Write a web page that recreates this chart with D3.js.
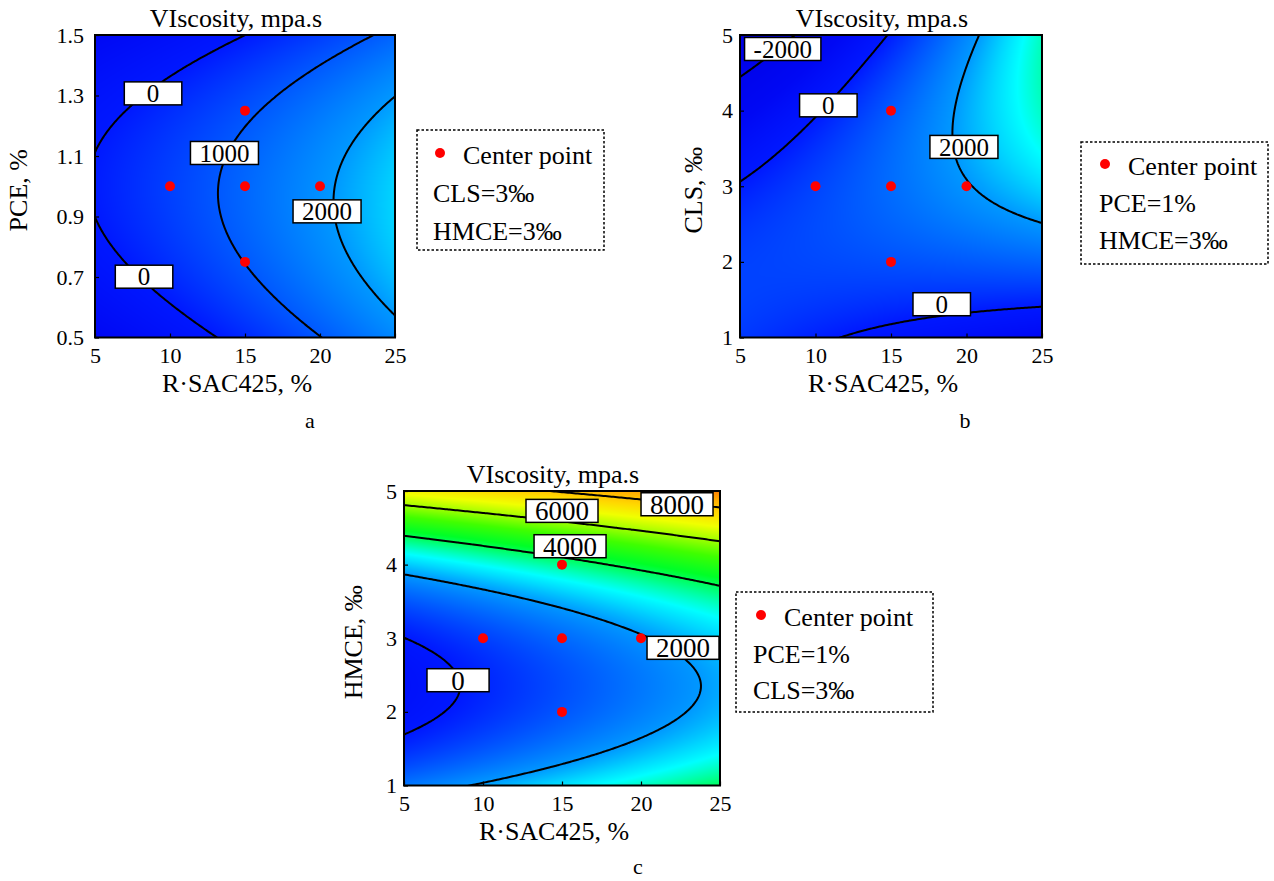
<!DOCTYPE html>
<html>
<head>
<meta charset="utf-8">
<script src="https://cdn.jsdelivr.net/npm/d3@7.9.0/dist/d3.min.js"></script>
<style>
  body { margin: 0; background: #fff; }
  svg text { font-family: "Liberation Serif", "Times New Roman", serif; fill: #000; }
</style>
</head>
<body>
<svg id="chart" width="1274" height="881"></svg>
<script>
// ---- data ----
// factor levels of the design (grid nodes)
const rsacLevels = [5, 10, 15, 20, 25];          // R·SAC425, %
const pceLevels = [0.5, 0.75, 1.0, 1.25, 1.5];   // PCE, %
const clsLevels = [1, 2, 3, 4, 5];               // CLS, ‰
const hmceLevels = [1, 2, 3, 4, 5];              // HMCE, ‰

// predicted viscosity (mpa.s) at the grid nodes; rows = y level (low -> high), cols = R·SAC425 level
const viscA = [
  [-1065, -423, 259, 983, 1747],
  [-234, 369, 1013, 1699, 2424],
  [50, 615, 1221, 1868, 2556],
  [-212, 315, 882, 1491, 2140],
  [-1021, -532, -3, 567, 1178]
];
const viscB = [
  [506, 122, -249, -606, -950],
  [629, 746, 876, 1020, 1178],
  [57, 674, 1306, 1950, 2609],
  [-1212, -93, 1039, 2184, 3344],
  [-3177, -1557, 76, 1723, 3383]
];
const viscC = [
  [1487, 2103, 2722, 3343, 3968],
  [-332, 317, 969, 1623, 2281],
  [-11, 632, 1278, 1927, 2578],
  [2450, 3049, 3650, 4254, 4861],
  [7051, 7566, 8084, 8605, 9129]
];

// contour levels
const levelsA = [0, 1000, 2000];
const levelsB = [-2000, 0, 2000];
const levelsC = [0, 2000, 4000, 6000, 8000];

// tick labels
const rsacTicks = [5, 10, 15, 20, 25];
const pceTicks = [0.5, 0.7, 0.9, 1.1, 1.3, 1.5];
const clsTicks = [1, 2, 3, 4, 5];
const hmceTicks = [1, 2, 3, 4, 5];

// design points (red dots)
const designA = [[10, 1], [15, 1.25], [15, 1], [15, 0.75], [20, 1]];
const designB = [[10, 3], [15, 4], [15, 3], [15, 2], [20, 3]];
const designC = [[10, 3], [15, 4], [15, 3], [15, 2], [20, 3]];

// contour label anchors: [level, x, y] in data units
const labelsA = [[0, 8.87, 1.307], [1000, 13.63, 1.11], [2000, 20.47, 0.917], [0, 8.27, 0.701]];
const labelsB = [[-2000, 7.83, 4.815], [0, 10.85, 4.07], [2000, 19.83, 3.52], [0, 18.36, 1.44]];
const labelsC = [[8000, 22.28, 4.82], [6000, 15.0, 4.73], [4000, 15.51, 4.25], [2000, 22.66, 2.87], [0, 8.42, 2.43]];

// fixed factors shown in the legends
const legendA = ['CLS=3‰', 'HMCE=3‰'];
const legendB = ['PCE=1%', 'HMCE=3‰'];
const legendC = ['PCE=1%', 'CLS=3‰'];

// ---- colour map (jet-like) ----
const colorStops = [-3000, -1000, 0, 1000, 2000, 2600, 3000, 3700, 4300, 5200, 6000, 6800, 7600, 8400, 9100];
const colorRange = ['#0000e4', '#0008f4', '#0018ff', '#0058ff', '#0098ff', '#00d8ff', '#00ffff',
  '#00ff88', '#00ff28', '#40ff00', '#a0ff00', '#f0ff00', '#ffd800', '#ffb000', '#ff8000'];
const color = d3.scaleLinear().domain(colorStops).range(colorRange).clamp(true);

const svg = d3.select('#chart');
const defs = svg.append('defs');

// smooth surface through the grid nodes (Catmull-Rom, exact for quadratic surfaces)
function cr(p0, p1, p2, p3, s) {
  return 0.5 * (2 * p1 + (-p0 + p2) * s + (2 * p0 - 5 * p1 + 4 * p2 - p3) * s * s +
    (-p0 + 3 * p1 - 3 * p2 + p3) * s * s * s);
}
function makeSampler(grid) {
  const ext = a => [3 * a[0] - 3 * a[1] + a[2], ...a,
    3 * a[a.length - 1] - 3 * a[a.length - 2] + a[a.length - 3]];
  const rows = grid.map(ext);
  const cols = d3.range(rows[0].length).map(j => ext(rows.map(r => r[j])));
  const n = grid.length, m = grid[0].length;
  return (tx, ty) => {
    const i = Math.max(0, Math.min(Math.floor(tx), m - 2)), s = tx - i;
    const k = Math.max(0, Math.min(Math.floor(ty), n - 2)), t = ty - k;
    const col = j => cr(cols[j][k], cols[j][k + 1], cols[j][k + 2], cols[j][k + 3], t);
    return cr(col(i), col(i + 1), col(i + 2), col(i + 3), s);
  };
}

function drawPanel(p) {
  const x = d3.scaleLinear().domain(d3.extent(p.xLevels)).range([p.left, p.right]);
  const y = d3.scaleLinear().domain(d3.extent(p.yLevels)).range([p.bottom, p.top]);
  const tX = d3.scaleLinear().domain(d3.extent(p.xLevels)).range([0, p.xLevels.length - 1]);
  const tY = d3.scaleLinear().domain(d3.extent(p.yLevels)).range([0, p.yLevels.length - 1]);
  const sample = makeSampler(p.values);
  const w = p.right - p.left, h = p.bottom - p.top;
  const g = svg.append('g');

  // heat map
  const cw = Math.round(w), ch = Math.round(h);
  const canvas = document.createElement('canvas');
  canvas.width = cw; canvas.height = ch;
  const ctx = canvas.getContext('2d');
  const img = ctx.createImageData(cw, ch);
  for (let py = 0; py < ch; py++) {
    const yv = y.invert(p.top + (py + 0.5) * h / ch);
    for (let px = 0; px < cw; px++) {
      const xv = x.invert(p.left + (px + 0.5) * w / cw);
      const c = d3.rgb(color(sample(tX(xv), tY(yv))));
      const o = (py * cw + px) * 4;
      img.data[o] = c.r; img.data[o + 1] = c.g; img.data[o + 2] = c.b; img.data[o + 3] = 255;
    }
  }
  ctx.putImageData(img, 0, 0);
  g.append('image')
    .attr('href', canvas.toDataURL())
    .attr('x', p.left).attr('y', p.top)
    .attr('width', w).attr('height', h)
    .attr('preserveAspectRatio', 'none');

  // contour lines
  defs.append('clipPath').attr('id', 'clip-' + p.id)
    .append('rect').attr('x', p.left).attr('y', p.top).attr('width', w).attr('height', h);
  const N = 161;
  const [x0, x1] = d3.extent(p.xLevels), [y0, y1] = d3.extent(p.yLevels);
  const vals = new Float64Array(N * N);
  for (let j = 0; j < N; j++) {
    const yv = y0 + j * (y1 - y0) / (N - 1);
    for (let i = 0; i < N; i++) {
      const xv = x0 + i * (x1 - x0) / (N - 1);
      vals[j * N + i] = sample(tX(xv), tY(yv));
    }
  }
  const contours = d3.contours().size([N, N]).thresholds(p.levels)(vals);
  const proj = d3.geoTransform({
    point(cx, cy) {
      this.stream.point(x(x0 + (cx - 0.5) * (x1 - x0) / (N - 1)), y(y0 + (cy - 0.5) * (y1 - y0) / (N - 1)));
    }
  });
  g.append('g').attr('clip-path', `url(#clip-${p.id})`)
    .selectAll('path').data(contours).join('path')
    .attr('d', d3.geoPath(proj))
    .attr('fill', 'none').attr('stroke', '#000').attr('stroke-width', 2);

  // contour labels
  p.labels.forEach(([lv, lx, ly]) => {
    const lg = g.append('g').attr('transform', `translate(${x(lx)},${y(ly)})`);
    const box = lg.append('rect');
    const txt = lg.append('text').attr('text-anchor', 'middle').attr('dy', '0.35em')
      .attr('font-size', p.labelSize).text(String(lv));
    const tw = txt.node().getComputedTextLength();
    const bw = Math.max(tw + 18, p.labelSize * 2.3);
    box.attr('x', -bw / 2).attr('y', -11.5).attr('width', bw).attr('height', 23)
      .attr('fill', '#fff').attr('stroke', '#000').attr('stroke-width', 1.5);
  });

  // design points
  g.selectAll('circle.pt').data(p.points).join('circle').attr('class', 'pt')
    .attr('cx', d => x(d[0])).attr('cy', d => y(d[1])).attr('r', 5).attr('fill', '#ff0000');

  // axes with inward ticks
  g.append('g').attr('transform', `translate(0,${p.bottom})`)
    .call(d3.axisBottom(x).tickValues(rsacTicks).tickSizeInner(-4).tickSizeOuter(0).tickPadding(10))
    .call(a => a.select('.domain').remove())
    .attr('font-size', 22).attr('font-family', null);
  g.append('g').attr('transform', `translate(${p.left},0)`)
    .call(d3.axisLeft(y).tickValues(p.yTicks).tickFormat(p.yFormat).tickSizeInner(-4).tickSizeOuter(0).tickPadding(p.yPad))
    .call(a => a.select('.domain').remove())
    .attr('font-size', 22).attr('font-family', null);
  g.selectAll('.tick line').attr('stroke', '#000').attr('stroke-width', 1.2);
  g.selectAll('.tick text').attr('fill', '#000');

  // frame
  g.append('rect').attr('x', p.left).attr('y', p.top).attr('width', w).attr('height', h)
    .attr('fill', 'none').attr('stroke', '#000').attr('stroke-width', 2);

  // titles
  const cx = (p.left + p.right) / 2;
  g.append('text').attr('x', cx - 9).attr('y', p.top - 8).attr('text-anchor', 'middle')
    .attr('font-size', 26).text('VIscosity, mpa.s');
  g.append('text').attr('x', cx - 8).attr('y', p.bottom + 54).attr('text-anchor', 'middle')
    .attr('font-size', 26).text('R·SAC425, %');
  g.append('text').attr('transform', `translate(${p.yTitleX},${(p.top + p.bottom) / 2 + 4}) rotate(-90)`)
    .attr('text-anchor', 'middle').attr('font-size', 26).text(p.yTitle);
  g.append('text').attr('x', p.tagX).attr('y', p.tagY).attr('text-anchor', 'middle')
    .attr('font-size', 22).text(p.id);

  // legend box
  const L = p.legend;
  g.append('rect').attr('x', L.x).attr('y', L.y).attr('width', L.w).attr('height', L.h)
    .attr('fill', 'none').attr('stroke', '#000').attr('stroke-width', 1.5).attr('stroke-dasharray', '2.5,2');
  g.append('circle').attr('cx', L.dotX).attr('cy', L.rowY[0] - 2).attr('r', 5).attr('fill', '#ff0000');
  g.append('text').attr('x', L.dotX + 23).attr('y', L.rowY[0]).attr('dy', '0.34em')
    .attr('font-size', 26).text('Center point');
  L.lines.forEach((t, i) => {
    g.append('text').attr('x', L.textX).attr('y', L.rowY[i + 1]).attr('dy', '0.34em')
      .attr('font-size', 26).text(t);
  });
}

drawPanel({
  id: 'a', left: 95, right: 395, top: 35, bottom: 337.5,
  xLevels: rsacLevels, yLevels: pceLevels, values: viscA, levels: levelsA,
  points: designA, labels: labelsA, labelSize: 25,
  yTicks: pceTicks, yFormat: d3.format('.1f'), yPad: 11, yTitle: 'PCE, %', yTitleX: 27,
  tagX: 310, tagY: 428,
  legend: { x: 417, y: 130, w: 187, h: 120, dotX: 440, textX: 433, rowY: [155, 193, 231], lines: legendA }
});
drawPanel({
  id: 'b', left: 740, right: 1042, top: 35, bottom: 337.5,
  xLevels: rsacLevels, yLevels: clsLevels, values: viscB, levels: levelsB,
  points: designB, labels: labelsB, labelSize: 25,
  yTicks: clsTicks, yFormat: d3.format('d'), yPad: 7, yTitle: 'CLS, ‰', yTitleX: 702,
  tagX: 965, tagY: 428,
  legend: { x: 1081, y: 142, w: 187, h: 122, dotX: 1105, textX: 1099, rowY: [166, 203, 240], lines: legendB }
});
drawPanel({
  id: 'c', left: 404, right: 720, top: 491, bottom: 785.5,
  xLevels: rsacLevels, yLevels: hmceLevels, values: viscC, levels: levelsC,
  points: designC, labels: labelsC, labelSize: 27,
  yTicks: hmceTicks, yFormat: d3.format('d'), yPad: 7, yTitle: 'HMCE, ‰', yTitleX: 362,
  tagX: 638, tagY: 874,
  legend: { x: 736, y: 592, w: 197, h: 120, dotX: 761, textX: 753, rowY: [617, 654, 690], lines: legendC }
});
</script>
</body>
</html>
